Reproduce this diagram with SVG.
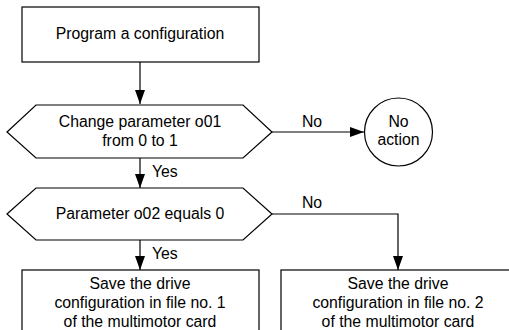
<svg xmlns="http://www.w3.org/2000/svg" width="509" height="330" viewBox="0 0 509 330">
<style>
.s{fill:#fff;stroke:#000;stroke-width:1.2}
.c{fill:none;stroke:#000;stroke-width:1.2}
text{font-family:"Liberation Sans",Arial,sans-serif;font-size:15.8px;fill:#000}
.m{text-anchor:middle}
</style>
<defs>
<marker id="a" markerWidth="14" markerHeight="10" refX="14" refY="5" orient="auto" markerUnits="userSpaceOnUse">
<path d="M0,0 L14,5 L0,10 Z" fill="#000"/>
</marker>
</defs>
<rect width="509" height="330" fill="#fff"/>
<g id="connectors">
<line class="c" x1="140" y1="62" x2="140" y2="104" marker-end="url(#a)"/>
<line class="c" x1="140" y1="158" x2="140" y2="188" marker-end="url(#a)"/>
<line class="c" x1="140" y1="240" x2="140" y2="270" marker-end="url(#a)"/>
<line class="c" x1="272" y1="132" x2="364" y2="132" marker-end="url(#a)"/>
<polyline class="c" points="272,214 398,214 398,270" marker-end="url(#a)"/>
<text x="152" y="177">Yes</text>
<text x="152" y="259">Yes</text>
<text class="m" x="312" y="127">No</text>
<text class="m" x="312" y="208">No</text>
</g>
<g id="start">
<rect class="s" x="22" y="7" width="237" height="55"/>
<text class="m" x="140" y="39">Program a configuration</text>
</g>
<g id="decision1">
<polygon class="s" points="7,132 36,105 243,105 272,132 243,158 36,158"/>
<text class="m" x="140" y="127">Change parameter o01</text>
<text class="m" x="140" y="146">from 0 to 1</text>
</g>
<g id="noaction">
<circle class="s" cx="398.5" cy="132" r="34"/>
<text class="m" x="398.5" y="127">No</text>
<text class="m" x="398.5" y="145">action</text>
</g>
<g id="decision2">
<polygon class="s" points="7,214 36,188 243,188 272,214 243,240 36,240"/>
<text class="m" x="140" y="219">Parameter o02 equals 0</text>
</g>
<g id="save1">
<rect class="s" x="22" y="270" width="237" height="70"/>
<text class="m" x="140" y="289">Save the drive</text>
<text class="m" x="140" y="308">configuration in file no. 1</text>
<text class="m" x="140" y="327">of the multimotor card</text>
</g>
<g id="save2">
<rect class="s" x="281" y="270" width="236" height="70"/>
<text class="m" x="398" y="289">Save the drive</text>
<text class="m" x="398" y="308">configuration in file no. 2</text>
<text class="m" x="398" y="327">of the multimotor card</text>
</g>
</svg>
